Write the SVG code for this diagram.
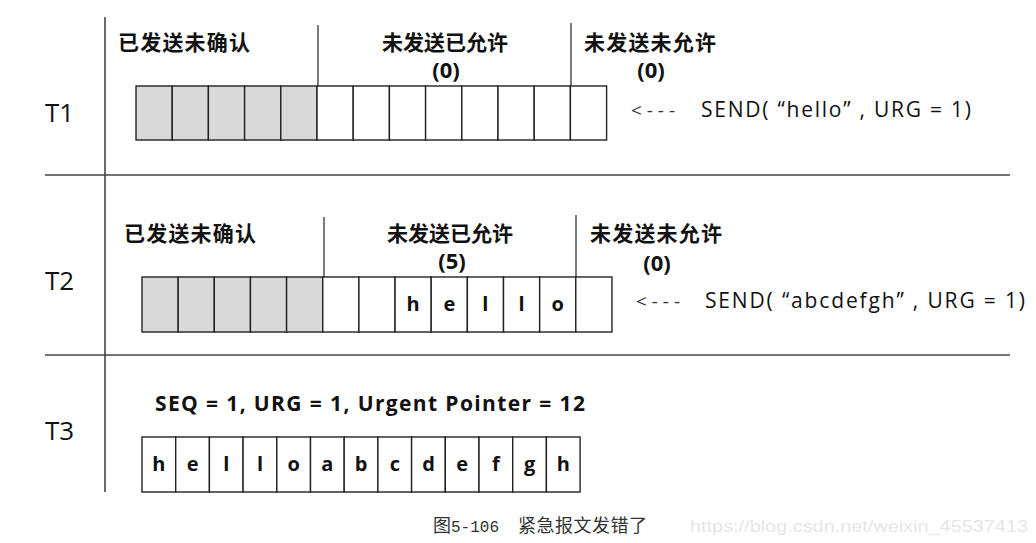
<svg xmlns="http://www.w3.org/2000/svg" width="1036" height="543" viewBox="0 0 1036 543">
<style>
.frame{stroke:#444;stroke-width:1.6;fill:none}
.div{stroke:#222;stroke-width:1.2;fill:none}
.c{stroke:#222;stroke-width:1.4;fill:#fff}
.g{stroke:#222;stroke-width:1.4;fill:#d9d9d9}
.t{font-family:"Open Sans","Liberation Sans",sans-serif;font-size:26px;fill:#111}
.cn{font-family:"Noto Sans CJK SC",sans-serif;font-weight:bold;font-size:21px;fill:#111}
.p{font-family:"Open Sans","Liberation Sans",sans-serif;font-weight:bold;font-size:22px;fill:#111;text-anchor:middle}
.s{font-family:"Open Sans","Liberation Sans",sans-serif;font-size:21px;fill:#111}
.a{font-family:"Open Sans","Liberation Sans",sans-serif;font-size:19px;fill:#333}
.l{font-family:"Open Sans","Liberation Sans",sans-serif;font-weight:bold;font-size:20px;fill:#111;text-anchor:middle}
.seq{font-family:"Open Sans","Liberation Sans",sans-serif;font-weight:bold;font-size:21px;fill:#111}
.cap{font-family:"Liberation Mono","Noto Sans CJK SC",monospace;font-size:16px;fill:#333}
.capc{font-family:"Noto Sans CJK SC",sans-serif;font-size:18px;fill:#333}
.wm{font-family:"Liberation Sans",sans-serif;font-size:17px;fill:#e6e6e6}
</style>
<rect width="1036" height="543" fill="#fff"/>
<g id="frame">
<line class="frame" x1="105" y1="17" x2="105" y2="492"/>
<line class="frame" x1="45" y1="175" x2="1010" y2="175"/>
<line class="frame" x1="45" y1="355" x2="1010" y2="355"/>
<text class="t" x="45" y="122">T1</text>
<text class="t" x="45" y="290">T2</text>
<text class="t" x="45" y="440">T3</text>
</g>
<g id="row1">
<rect class="g" x="136" y="86" width="36.2" height="54"/>
<rect class="g" x="172.2" y="86" width="36.2" height="54"/>
<rect class="g" x="208.4" y="86" width="36.2" height="54"/>
<rect class="g" x="244.6" y="86" width="36.2" height="54"/>
<rect class="g" x="280.8" y="86" width="36.2" height="54"/>
<rect class="c" x="317" y="86" width="36.2" height="54"/>
<rect class="c" x="353.2" y="86" width="36.2" height="54"/>
<rect class="c" x="389.4" y="86" width="36.2" height="54"/>
<rect class="c" x="425.6" y="86" width="36.2" height="54"/>
<rect class="c" x="461.8" y="86" width="36.2" height="54"/>
<rect class="c" x="498" y="86" width="36.2" height="54"/>
<rect class="c" x="534.2" y="86" width="36.2" height="54"/>
<rect class="c" x="570.4" y="86" width="36.2" height="54"/>
<line class="div" x1="318" y1="25" x2="318" y2="86"/>
<line class="div" x1="571" y1="23" x2="571" y2="86"/>
<text class="cn" x="118" y="50" textLength="132">已发送未确认</text>
<text class="cn" x="382" y="50" textLength="126">未发送已允许</text>
<text class="p" x="446" y="78">(0)</text>
<text class="cn" x="584" y="50" textLength="132">未发送未允许</text>
<text class="p" x="651" y="78">(0)</text>
<text class="a" x="631" y="117" textLength="44">&lt;---</text>
<text class="s" x="701" y="117" textLength="270">SEND( “hello” , URG = 1)</text>
</g>
<g id="row2">
<rect class="g" x="142" y="277" width="36.15" height="55"/>
<rect class="g" x="178.15" y="277" width="36.15" height="55"/>
<rect class="g" x="214.3" y="277" width="36.15" height="55"/>
<rect class="g" x="250.45" y="277" width="36.15" height="55"/>
<rect class="g" x="286.6" y="277" width="36.15" height="55"/>
<rect class="c" x="322.75" y="277" width="36.15" height="55"/>
<rect class="c" x="358.9" y="277" width="36.15" height="55"/>
<rect class="c" x="395.05" y="277" width="36.15" height="55"/>
<rect class="c" x="431.2" y="277" width="36.15" height="55"/>
<rect class="c" x="467.35" y="277" width="36.15" height="55"/>
<rect class="c" x="503.5" y="277" width="36.15" height="55"/>
<rect class="c" x="539.65" y="277" width="36.15" height="55"/>
<rect class="c" x="575.8" y="277" width="36.15" height="55"/>
<line class="div" x1="324" y1="217" x2="324" y2="277"/>
<line class="div" x1="576" y1="215" x2="576" y2="277"/>
<text class="l" x="413.1" y="311">h</text>
<text class="l" x="449.3" y="311">e</text>
<text class="l" x="485.4" y="311">l</text>
<text class="l" x="521.6" y="311">l</text>
<text class="l" x="557.7" y="311">o</text>
<text class="cn" x="124" y="241" textLength="132">已发送未确认</text>
<text class="cn" x="387" y="241" textLength="126">未发送已允许</text>
<text class="p" x="452" y="269">(5)</text>
<text class="cn" x="590" y="241" textLength="132">未发送未允许</text>
<text class="p" x="657" y="271">(0)</text>
<text class="a" x="636" y="308" textLength="44">&lt;---</text>
<text class="s" x="705" y="308" textLength="320">SEND( “abcdefgh” , URG = 1)</text>
</g>
<g id="row3">
<text class="seq" x="155" y="411" textLength="430">SEQ = 1, URG = 1, Urgent Pointer = 12</text>
<rect class="c" x="142" y="437" width="33.7" height="55"/>
<rect class="c" x="175.7" y="437" width="33.7" height="55"/>
<rect class="c" x="209.4" y="437" width="33.7" height="55"/>
<rect class="c" x="243.1" y="437" width="33.7" height="55"/>
<rect class="c" x="276.8" y="437" width="33.7" height="55"/>
<rect class="c" x="310.5" y="437" width="33.7" height="55"/>
<rect class="c" x="344.2" y="437" width="33.7" height="55"/>
<rect class="c" x="377.9" y="437" width="33.7" height="55"/>
<rect class="c" x="411.6" y="437" width="33.7" height="55"/>
<rect class="c" x="445.3" y="437" width="33.7" height="55"/>
<rect class="c" x="479" y="437" width="33.7" height="55"/>
<rect class="c" x="512.7" y="437" width="33.7" height="55"/>
<rect class="c" x="546.4" y="437" width="33.7" height="55"/>
<text class="l" x="158.9" y="471">h</text>
<text class="l" x="192.6" y="471">e</text>
<text class="l" x="226.3" y="471">l</text>
<text class="l" x="260" y="471">l</text>
<text class="l" x="293.7" y="471">o</text>
<text class="l" x="327.4" y="471">a</text>
<text class="l" x="361.1" y="471">b</text>
<text class="l" x="394.8" y="471">c</text>
<text class="l" x="428.5" y="471">d</text>
<text class="l" x="462.2" y="471">e</text>
<text class="l" x="495.9" y="471">f</text>
<text class="l" x="529.6" y="471">g</text>
<text class="l" x="563.3" y="471">h</text>
</g>
<g id="caption">
<text class="capc" x="433" y="532">图<tspan class="cap" style="font-size:16px">5-106</tspan></text>
<text class="capc" x="518" y="532" textLength="129">紧急报文发错了</text>
<text class="wm" x="690" y="532" textLength="338" lengthAdjust="spacingAndGlyphs">https://blog.csdn.net/weixin_45537413</text>
</g>
</svg>
